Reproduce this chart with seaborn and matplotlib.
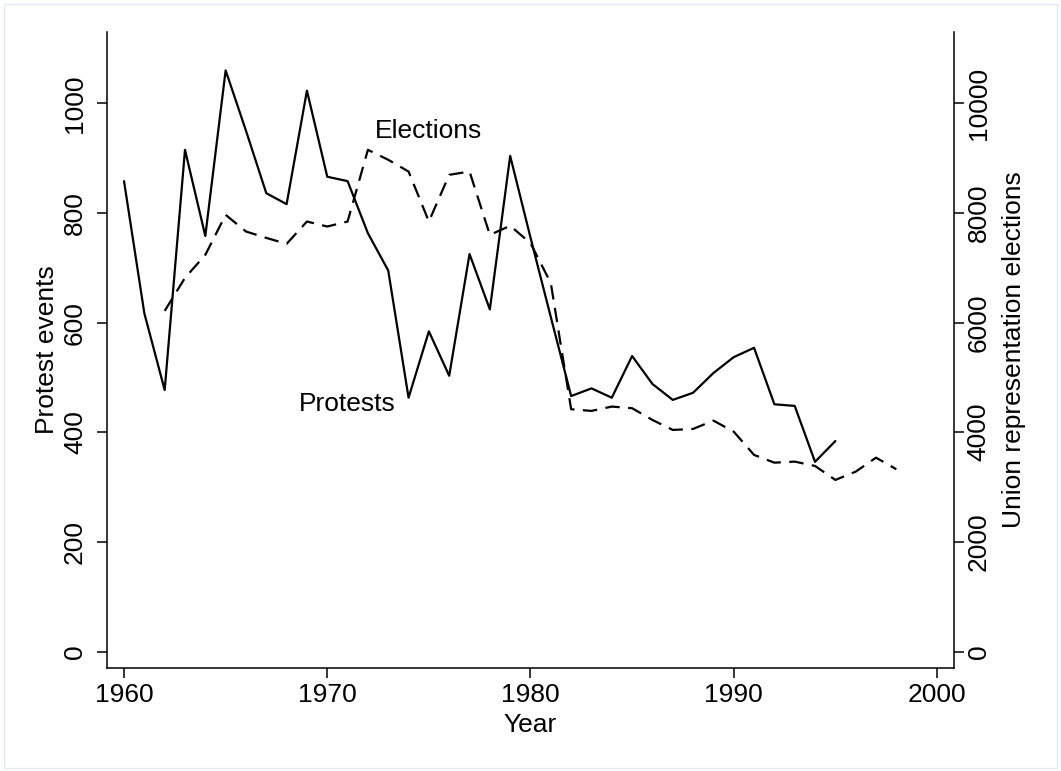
import matplotlib
matplotlib.use('Agg')
import matplotlib.pyplot as plt
import seaborn as sns
from matplotlib.patches import Rectangle

# data
protest_years = list(range(1960, 1996))
protests = [858, 617, 477, 915, 758, 1060, 950, 836, 816, 1023,
            866, 858, 763, 695, 463, 584, 503, 725, 624, 904,
            755, 610, 466, 480, 463, 539, 488, 459, 472, 508,
            537, 554, 451, 448, 346, 384]

election_years = list(range(1962, 1999))
elections = [6213, 6816, 7235, 7965, 7661, 7545, 7436, 7843, 7752, 7843,
             9151, 8969, 8755, 7843, 8695, 8755, 7600, 7765, 7449, 6719,
             4420, 4389, 4468, 4438, 4224, 4042, 4060, 4212, 4011, 3586,
             3445, 3464, 3385, 3130, 3281, 3536, 3325]

x_ticks = [1960, 1970, 1980, 1990, 2000]
left_ticks = [0, 200, 400, 600, 800, 1000]
right_ticks = [0, 2000, 4000, 6000, 8000, 10000]

sns.set_style('ticks')
plt.rcParams['font.family'] = ['Liberation Sans', 'DejaVu Sans']
plt.rcParams['font.size'] = 19
plt.rcParams['text.color'] = 'black'
plt.rcParams['axes.labelcolor'] = 'black'
plt.rcParams['xtick.color'] = 'black'
plt.rcParams['ytick.color'] = 'black'

fig = plt.figure(figsize=(10.61, 7.71), dpi=100)
ax = fig.add_axes([0.1008, 0.1336, 0.7984, 0.8249])
ax2 = ax.twinx()

sns.lineplot(x=protest_years, y=protests, ax=ax, color='black', linewidth=1.6)
sns.lineplot(x=election_years, y=elections, ax=ax2, color='black', linewidth=1.6)
ax2.lines[0].set_dashes([6.5, 3.8])

ax.set_xlim(1959.16, 2000.84)
ax.set_ylim(-30, 1130)
ax2.set_ylim(-300, 11300)

ax.set_xticks(x_ticks)
ax.set_yticks(left_ticks)
ax2.set_yticks(right_ticks)

for a in (ax, ax2):
    a.set_facecolor('none')
    a.spines['top'].set_visible(False)
    for s in a.spines.values():
        s.set_linewidth(1.1)
        s.set_color('black')
    a.tick_params(length=7, width=1.1, color='black', labelcolor='black', labelsize=19)
ax.spines['right'].set_visible(False)
ax2.spines['left'].set_visible(False)
ax2.spines['bottom'].set_visible(False)

ax.tick_params(axis='x', pad=3.5)
ax.tick_params(axis='y', labelrotation=90, pad=7.3)
ax2.tick_params(axis='y', labelrotation=90, pad=2.2)
plt.setp(ax.get_yticklabels(), va='center')
plt.setp(ax2.get_yticklabels(), va='center')

ax.set_xlabel('Year', fontsize=19, labelpad=4.5)
ax.set_ylabel('Protest events', fontsize=19, labelpad=3.3)
ax2.set_ylabel('Union representation elections', fontsize=19, labelpad=8)

ax.text(1975.0, 950, 'Elections', ha='center', va='center', fontsize=19)
ax.text(1971.0, 452, 'Protests', ha='center', va='center', fontsize=19)

fig.patches.append(Rectangle((0.0035, 0.004), 0.993, 0.991, transform=fig.transFigure,
                             fill=False, edgecolor='#e3e9ec', linewidth=1))

fig.savefig('out.png', dpi=100, facecolor='white')
